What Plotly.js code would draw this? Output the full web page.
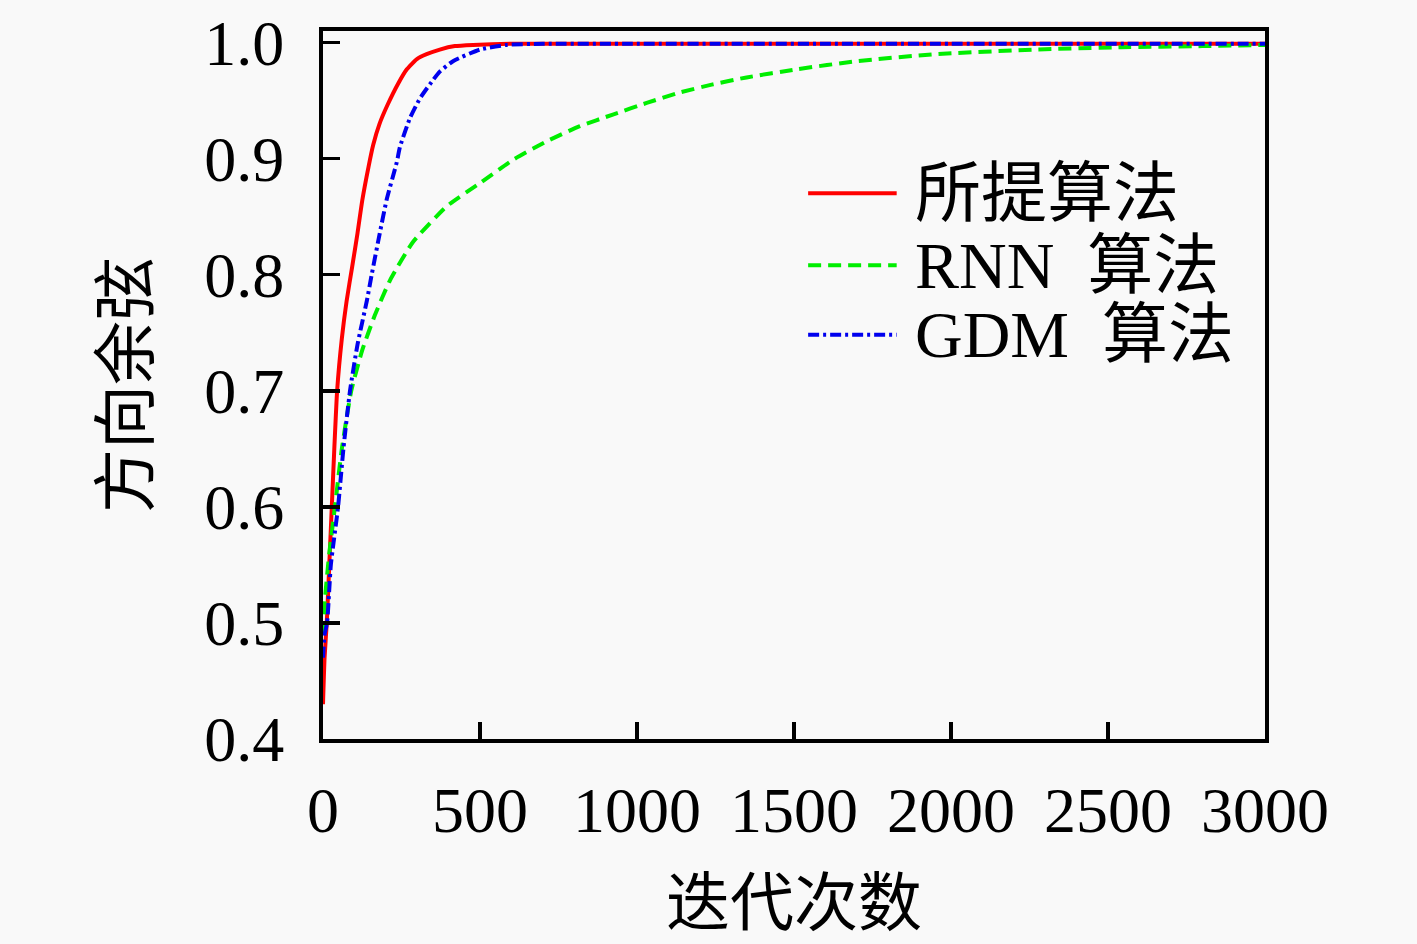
<!DOCTYPE html>
<html>
<head>
<meta charset="utf-8">
<script src="https://cdn.plot.ly/plotly-3.0.1.min.js"></script>
<style>
  html, body { margin: 0; padding: 0; background: #f9f9f9; }
  #chart { width: 1417px; height: 944px; }
</style>
</head>
<body>
<div id="chart"></div>
<script>
// values
const seriesNames = ['所提算法', 'RNN  算法', 'GDM  算法']

const proposedX = [0, 5, 12, 20, 28, 36, 45, 60, 75, 93, 110, 125, 145, 160, 180, 205, 240, 267, 300, 330, 372, 420, 478, 600, 1000, 2000, 3000]
const proposedY = [0.43, 0.47, 0.5, 0.55, 0.6, 0.65, 0.7, 0.745, 0.777, 0.807, 0.836, 0.864, 0.893, 0.912, 0.93, 0.946, 0.965, 0.977, 0.986, 0.99, 0.994, 0.997, 0.998, 0.999, 0.999, 0.999, 0.999]

const rnnX = [0, 6, 20, 38, 60, 90, 125, 165, 213, 286, 394, 500, 605, 713, 818, 923, 1031, 1136, 1241, 1349, 1508, 1700, 1947, 2265, 2542, 2800, 3000]
const rnnY = [0.49, 0.52, 0.56, 0.6, 0.65, 0.7, 0.735, 0.765, 0.795, 0.828, 0.859, 0.879, 0.899, 0.915, 0.928, 0.938, 0.948, 0.957, 0.964, 0.97, 0.977, 0.984, 0.99, 0.994, 0.996, 0.997, 0.998]

const gdmX = [0, 5, 13, 25, 48, 65, 86, 110, 140, 155, 181, 203, 235, 245, 277, 309, 351, 372, 414, 500, 585, 700, 1000, 2000, 3000]
const gdmY = [0.47, 0.49, 0.5, 0.55, 0.6, 0.65, 0.7, 0.74, 0.778, 0.8, 0.836, 0.865, 0.897, 0.91, 0.935, 0.952, 0.968, 0.975, 0.984, 0.994, 0.998, 0.999, 0.999, 0.999, 0.999]

const xTicks = [0, 500, 1000, 1500, 2000, 2500, 3000]
const yTicks = [0.4, 0.5, 0.6, 0.7, 0.8, 0.9, 1.0]
const yTickText = ['0.4', '0.5', '0.6', '0.7', '0.8', '0.9', '1.0']

const serif = '"Liberation Serif", "DejaVu Serif", "Noto Sans CJK SC", serif'
const cjk = '"Liberation Serif", "Noto Sans CJK SC", serif'

const styles = [
    { color: '#ff0000', dash: 'solid' },
    { color: '#00ee00', dash: '13px,7px' },
    { color: '#0000ee', dash: '11px,4px,3px,4px' }
]

const xs = [proposedX, rnnX, gdmX]
const ys = [proposedY, rnnY, gdmY]

const data = seriesNames.map((name, i) => ({
    x: xs[i],
    y: ys[i],
    name: name,
    mode: 'lines',
    type: 'scatter',
    line: { color: styles[i].color, dash: styles[i].dash, width: 4, shape: 'spline', smoothing: 0.5 },
    showlegend: false
}))

// hand made legend so the line samples are as long as in the picture
const legendRows = [0.771, 0.669, 0.571]
const shapes = seriesNames.map((name, i) => ({
    type: 'line', xref: 'paper', yref: 'paper',
    x0: 0.515, x1: 0.609, y0: legendRows[i], y1: legendRows[i],
    line: { color: styles[i].color, dash: styles[i].dash, width: 4 }
}))
const annotations = seriesNames.map((name, i) => ({
    text: name, xref: 'paper', yref: 'paper',
    x: 0.626, y: legendRows[i], xanchor: 'left', yanchor: 'middle',
    showarrow: false,
    font: { family: cjk, size: 66, color: '#000' }
}))

const axisCommon = {
    showgrid: false,
    zeroline: false,
    showline: true,
    linecolor: '#000',
    linewidth: 4,
    mirror: true,
    ticks: 'inside',
    ticklen: 17,
    tickwidth: 3.5,
    tickcolor: '#000',
    tickfont: { family: serif, size: 64, color: '#000' }
}

const layout = {
    width: 1417,
    height: 944,
    paper_bgcolor: '#f9f9f9',
    plot_bgcolor: '#f9f9f9',
    margin: { l: 323, r: 152, t: 31, b: 205, pad: 0 },
    xaxis: Object.assign({}, axisCommon, {
        range: [0, 3000],
        tickvals: xTicks,
        ticklabelstandoff: 12,
        title: { text: '迭代次数', font: { family: cjk, size: 64, color: '#000' }, standoff: 36 }
    }),
    yaxis: Object.assign({}, axisCommon, {
        range: [0.4, 1.01],
        tickvals: yTicks,
        ticktext: yTickText,
        ticklabelstandoff: 22,
        title: { text: '方向余弦', font: { family: cjk, size: 64, color: '#000' }, standoff: 36 }
    }),
    shapes: shapes,
    annotations: annotations
}

Plotly.newPlot('chart', data, layout, { displayModeBar: false, staticPlot: true })
</script>
</body>
</html>
